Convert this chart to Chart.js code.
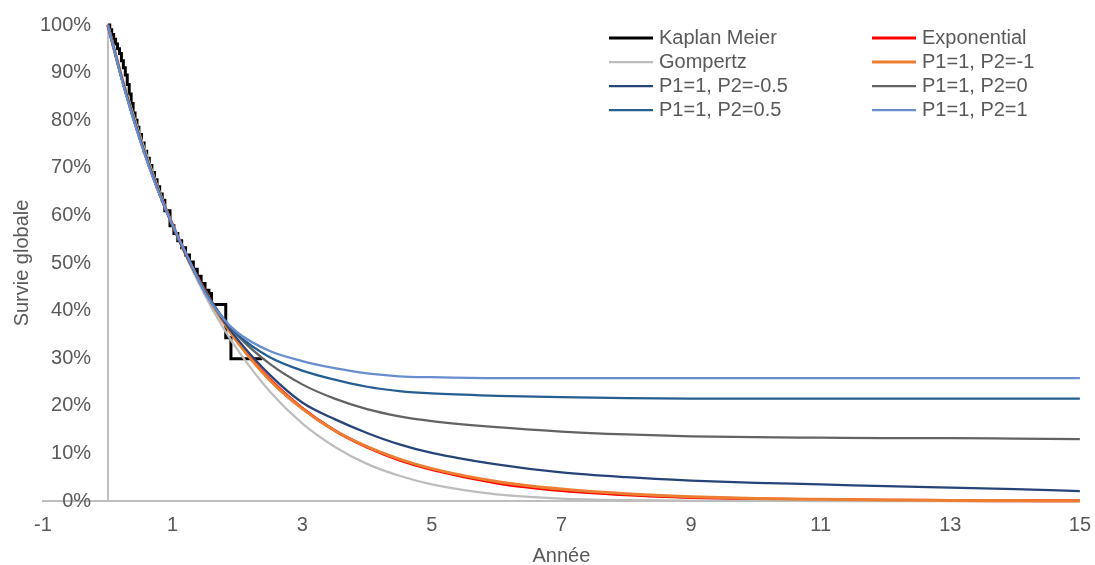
<!DOCTYPE html>
<html>
<head>
<meta charset="utf-8">
<script src="https://cdn.jsdelivr.net/npm/chart.js@4.4.1/dist/chart.umd.min.js"></script>
<style>
  body { margin: 0; background: #fff; }
  #wrap { width: 1095px; height: 565px; }
</style>
</head>
<body>
<div id="wrap"><canvas id="survChart"></canvas></div>
<script>
// time grid (years) shared by the fitted curves
const years = [0, 0.25, 0.5, 0.75, 1, 1.25, 1.5, 1.75, 2, 2.5, 3, 3.5, 4, 4.5, 5, 6, 7, 8, 9, 10, 11, 12, 13, 14, 15];

const exponential = [1, 0.872, 0.761, 0.664, 0.580, 0.506, 0.442, 0.385, 0.336, 0.256, 0.195, 0.148, 0.113, 0.086, 0.066, 0.038, 0.022, 0.013, 0.0074, 0.0043, 0.0025, 0.0014, 0.0008, 0.0005, 0.0003];
const gompertz = [1, 0.877, 0.767, 0.668, 0.580, 0.502, 0.432, 0.371, 0.318, 0.230, 0.163, 0.114, 0.078, 0.053, 0.035, 0.014, 0.0052, 0.0018, 0.0005, 0.0001, 0, 0, 0, 0, 0];
const p2m1 = [1, 0.872, 0.760, 0.663, 0.579, 0.505, 0.440, 0.383, 0.334, 0.254, 0.194, 0.148, 0.114, 0.088, 0.068, 0.041, 0.025, 0.015, 0.009, 0.0055, 0.0035, 0.002, 0.0013, 0.0008, 0.0005];
const p2m05 = [1, 0.871, 0.759, 0.662, 0.578, 0.505, 0.441, 0.386, 0.340, 0.265, 0.207, 0.172, 0.143, 0.119, 0.101, 0.077, 0.060, 0.050, 0.043, 0.038, 0.035, 0.031, 0.028, 0.025, 0.021];
const p2zero = [1, 0.871, 0.759, 0.662, 0.579, 0.506, 0.442, 0.389, 0.348, 0.288, 0.245, 0.215, 0.193, 0.178, 0.168, 0.155, 0.146, 0.140, 0.136, 0.134, 0.133, 0.132, 0.132, 0.131, 0.130];
const p2p05 = [1, 0.870, 0.758, 0.662, 0.580, 0.507, 0.439, 0.390, 0.350, 0.302, 0.274, 0.255, 0.240, 0.231, 0.226, 0.221, 0.218, 0.216, 0.215, 0.215, 0.215, 0.215, 0.215, 0.215, 0.215];
const p2p1 = [1, 0.868, 0.756, 0.660, 0.580, 0.508, 0.437, 0.388, 0.354, 0.315, 0.294, 0.279, 0.268, 0.262, 0.260, 0.258, 0.258, 0.258, 0.258, 0.258, 0.258, 0.258, 0.258, 0.258, 0.258];

// Kaplan Meier steps
const kmTimes = [0, 0.03, 0.06, 0.09, 0.12, 0.15, 0.18, 0.21, 0.24, 0.27, 0.30, 0.33, 0.36, 0.39, 0.42, 0.45, 0.48, 0.52, 0.56, 0.60, 0.64, 0.68, 0.72, 0.76, 0.80, 0.84, 0.88, 0.96, 1.02, 1.08, 1.14, 1.20, 1.26, 1.32, 1.38, 1.44, 1.50, 1.56, 1.60, 1.82, 1.90, 2.38];
const kmSurv = [1, 0.99, 0.98, 0.97, 0.96, 0.95, 0.94, 0.925, 0.91, 0.895, 0.875, 0.855, 0.835, 0.815, 0.80, 0.785, 0.77, 0.752, 0.735, 0.72, 0.705, 0.69, 0.675, 0.66, 0.645, 0.632, 0.61, 0.578, 0.562, 0.547, 0.532, 0.517, 0.502, 0.487, 0.472, 0.457, 0.443, 0.436, 0.413, 0.343, 0.299, 0.299];

const xTicks = [-1, 1, 3, 5, 7, 9, 11, 13, 15];
const yTicks = [0, 0.1, 0.2, 0.3, 0.4, 0.5, 0.6, 0.7, 0.8, 0.9, 1];

// legend order (row by row, 2 columns)
const legendNames = ['Kaplan Meier', 'Exponential', 'Gompertz', 'P1=1, P2=-1', 'P1=1, P2=-0.5', 'P1=1, P2=0', 'P1=1, P2=0.5', 'P1=1, P2=1'];

const pts = (xs, ys) => xs.map((x, i) => ({x: x, y: ys[i]}));

const curve = (label, values, color, width) => ({
  label: label,
  data: pts(years, values),
  borderColor: color,
  backgroundColor: color,
  borderWidth: width,
  pointRadius: 0,
  cubicInterpolationMode: 'monotone',
  clip: false
});

// Chart.js paints dataset 0 on top, so list top-most first
const datasets = [
  curve('P1=1, P2=1', p2p1, '#698ed0', 2.25),
  curve('P1=1, P2=0.5', p2p05, '#255e91', 2.25),
  curve('P1=1, P2=0', p2zero, '#636363', 2.25),
  curve('P1=1, P2=-0.5', p2m05, '#264478', 2.25),
  curve('P1=1, P2=-1', p2m1, '#ed7d31', 3),
  curve('Gompertz', gompertz, '#bdbdbd', 2.25),
  curve('Exponential', exponential, '#ff0000', 3),
  {
    label: 'Kaplan Meier',
    data: pts(kmTimes, kmSurv),
    borderColor: '#000000',
    backgroundColor: '#000000',
    borderWidth: 3,
    pointRadius: 0,
    stepped: 'before',
    clip: false
  }
];

const gridLegend = {
  id: 'gridLegend',
  afterDraw(chart, args, opts) {
    const ctx = chart.ctx;
    ctx.save();
    ctx.font = opts.font;
    ctx.fillStyle = opts.color;
    ctx.textBaseline = 'middle';
    legendNames.forEach((name, i) => {
      const ds = chart.data.datasets.find(d => d.label === name);
      const x = opts.left + (i % 2) * opts.colWidth;
      const y = opts.top + Math.floor(i / 2) * opts.rowHeight;
      ctx.strokeStyle = ds.borderColor;
      ctx.lineWidth = ds.borderWidth;
      ctx.beginPath();
      ctx.moveTo(x, y);
      ctx.lineTo(x + opts.lineLength, y);
      ctx.stroke();
      ctx.fillText(name, x + opts.lineLength + 6, y);
    });
    ctx.restore();
  }
};

Chart.defaults.font.family = "'Liberation Sans', Arial, sans-serif";
Chart.defaults.font.size = 20;
Chart.defaults.color = '#595959';

new Chart(document.getElementById('survChart'), {
  type: 'line',
  data: { datasets: datasets },
  plugins: [gridLegend],
  options: {
    responsive: true,
    maintainAspectRatio: false,
    animation: false,
    layout: { padding: { left: 6, top: 25, right: 0, bottom: 0 } },
    scales: {
      x: {
        type: 'linear',
        min: -1,
        max: 15,
        afterBuildTicks: (scale) => { scale.ticks = xTicks.map(v => ({value: v})); },
        grid: { display: false },
        border: { color: '#bfbfbf', width: 2 },
        ticks: { padding: 4 },
        title: { display: true, text: 'Année', padding: { top: 3, bottom: -3 } }
      },
      y: {
        type: 'linear',
        min: 0,
        max: 1,
        position: { x: 0 },
        afterBuildTicks: (scale) => { scale.ticks = yTicks.map(v => ({value: v})); },
        grid: { display: false },
        border: { color: '#bfbfbf', width: 2 },
        // trailing spaces keep the labels clear of the axis line
        ticks: { callback: (v) => Math.round(v * 100) + '%   ' }
      },
      yTitle: {
        type: 'linear',
        position: 'left',
        display: true,
        min: 0,
        max: 1,
        grid: { display: false },
        border: { display: false },
        ticks: { display: false },
        title: { display: true, text: 'Survie globale', padding: { top: 4, bottom: 1 } }
      }
    },
    plugins: {
      legend: { display: false },
      tooltip: { enabled: false },
      gridLegend: {
        left: 609,
        top: 38,
        colWidth: 263,
        rowHeight: 24,
        lineLength: 44,
        font: "20px 'Liberation Sans', Arial, sans-serif",
        color: '#595959'
      }
    }
  }
});
</script>
</body>
</html>
